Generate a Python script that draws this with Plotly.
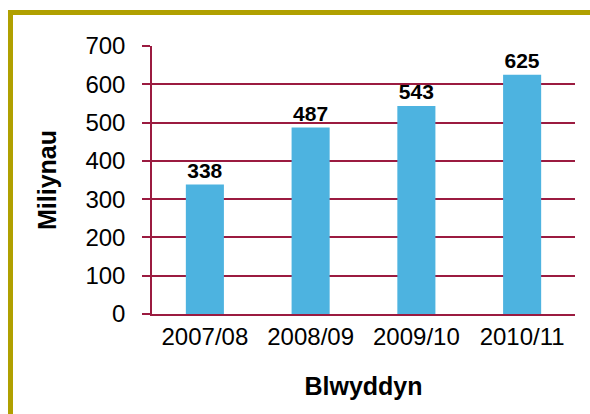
import plotly.graph_objects as go

categories = ["2007/08", "2008/09", "2009/10", "2010/11"]
values = [338, 487, 543, 625]
y_ticks = [0, 100, 200, 300, 400, 500, 600, 700]

grid_col = "#9B1B40"
bar_col = "#4DB3E0"
border_col = "#B0A000"
FONT = "Liberation Sans, Arial, Helvetica, sans-serif"

fig = go.Figure(go.Bar(
    x=categories, y=values, width=0.36,
    marker=dict(color=bar_col, line=dict(width=0)),
    text=[str(v) for v in values], textposition="outside",
    textfont=dict(family=FONT, size=21, color="black", weight="bold"),
    cliponaxis=False,
))

W, H = 590, 414
ml, mr, mt, mb = 152, 15, 46, 100
pw, ph = W - ml - mr, H - mt - mb
def px_x(p):
    return (p - ml) / pw
def px_y(p):
    return (H - mb - p) / ph

# olive frame: top and left edges only (the rest is cropped in the reference)
fig.add_shape(type="rect", xref="paper", yref="paper",
              x0=px_x(8), x1=px_x(590), y0=px_y(15), y1=px_y(10),
              line=dict(width=0), fillcolor=border_col, layer="above")
fig.add_shape(type="rect", xref="paper", yref="paper",
              x0=px_x(8), x1=px_x(13), y0=px_y(414), y1=px_y(10),
              line=dict(width=0), fillcolor=border_col, layer="above")

fig.update_layout(
    width=W, height=H,
    margin=dict(l=ml, r=mr, t=mt, b=mb, pad=0),
    paper_bgcolor="white", plot_bgcolor="white",
    font=dict(family=FONT, size=24, color="black"),
    showlegend=False,
    xaxis=dict(
        showline=True, linecolor=grid_col, linewidth=1.5,
        ticks="", tickfont=dict(size=24),
        title=dict(text="<b>Blwyddyn</b>", font=dict(size=25), standoff=29),
        showgrid=False,
    ),
    yaxis=dict(
        range=[0, 700], tickvals=y_ticks,
        showline=True, linecolor=grid_col, linewidth=1.5,
        showgrid=True, gridcolor=grid_col, gridwidth=1.5,
        ticks="outside", ticklen=8, tickcolor=grid_col, tickwidth=1.5,
        tickfont=dict(size=24), ticklabelstandoff=12,
        title=dict(text="<b>Miliynau</b>", font=dict(size=25), standoff=22),
        zeroline=False,
    ),
)

fig.write_html("out.html", config={"displayModeBar": False},
               post_script="document.body.style.margin='0';document.body.style.overflow='hidden';")
